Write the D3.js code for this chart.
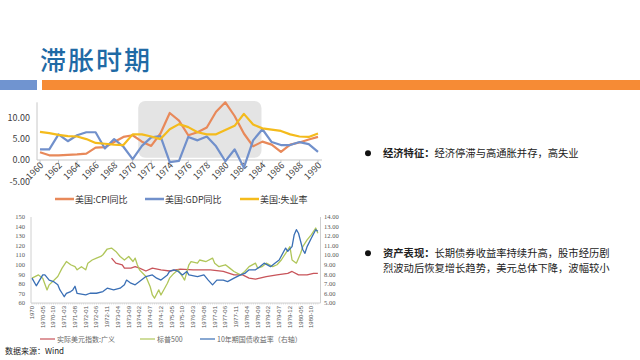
<!DOCTYPE html>
<html><head><meta charset="utf-8">
<script src="https://cdn.jsdelivr.net/npm/d3@7/dist/d3.min.js"></script>
<style>
html,body{margin:0;padding:0;background:#fff;}
svg{display:block;font-family:"Noto Sans CJK SC","Noto Sans",sans-serif;}
</style></head>
<body><svg id="c" width="640" height="360"></svg>
<script>
// ---------- top chart data ----------
const years = d3.range(1960, 1991);
const cpi = [1.8,1.1,1.1,1.2,1.3,1.5,2.9,3.0,4.2,5.4,5.8,4.3,3.3,6.2,11.0,9.2,5.8,6.5,7.6,11.3,13.5,10.3,6.2,3.2,4.3,3.6,1.9,3.6,4.1,4.8,5.4];
const gdp = [2.5,2.5,6.0,4.4,5.8,6.5,6.5,2.7,4.9,3.1,0.2,3.3,5.3,5.6,-0.5,-0.2,5.4,4.6,5.5,3.2,-0.3,2.5,-1.8,4.6,7.2,4.2,3.5,3.5,4.2,3.7,1.9];
const unemp = [6.6,6.3,5.9,5.6,5.5,4.9,4.0,3.8,3.6,3.5,6.0,6.0,5.5,4.9,7.2,8.4,7.7,6.5,6.0,6.0,7.0,8.0,10.8,8.3,7.4,7.1,6.8,6.0,5.5,5.4,6.2];
const topTicks = [-5, 0, 5, 10];
const shadeYears = [1970.6, 1983.9];
const topSeries = [
  {name:"美国:CPI同比", values:cpi, color:"#e8895a"},
  {name:"美国:GDP同比", values:gdp, color:"#7190cb"},
  {name:"美国:失业率", values:unemp, color:"#f4bb1c"}
];

// ---------- bottom chart data (month index from 1969-12) ----------
const monthLabels = ["1970","1970-05","1970-10","1971-03","1971-08","1972-01","1972-06","1972-11","1973-04","1973-09","1974-02","1974-07","1974-12","1975-05","1975-10","1976-03","1976-08","1977-01","1977-06","1977-11","1978-04","1978-09","1979-02","1979-07","1979-12","1980-05","1980-10"];
const spxM = [0,3,5,7,8,12,14,16,18,20,21,23,25,26,28,30,32,33,35,37,39,41,43,45,47,48,49,50,53,55,56,57,59,60,63,64,66,68,70,71,73,74,77,78,81,84,85,87,90,92,94,97,99,101,104,105,107,109,112,114,116,118,120,121,123,125,126,128,130,132,133];
const spxV = [86,89.4,86,73.7,79,87.7,96.5,103.4,100,98,94.7,98,94.7,101.7,105,107,108.7,110.5,116.5,117.5,114,108.7,105,108.7,103.4,107,100,94.7,87.7,77,68.4,65,73.7,68.4,80.7,86,91,94.7,87.7,84,100,103.4,101.7,105,103.4,107,101.7,98,100,96.5,93,89.4,93,98,101.7,96.5,98,101.7,98,100,105,112,119,105,101.7,112,119,126,131.5,138.5,133];
const bondM = [0,2,5,6,8,10,12,13,14,15,16,18,19,20,21,25,27,30,33,35,38,41,43,44,46,48,50,53,56,58,60,63,64,66,68,70,72,73,77,80,82,84,86,89,91,94,97,99,101,104,106,108,111,113,115,118,119,121,122,123,124,126,127,128,130,132,133];
const bondV = [7.6,6.8,7.94,7.94,7.4,7.24,6.9,6.37,6.02,5.66,6.0,6.2,6.37,6.75,6.0,5.84,6.02,6.02,6.2,6.55,6.37,6.55,6.9,7.4,7.07,6.9,7.24,7.77,7.94,7.6,7.4,7.94,8.3,8.47,8.3,7.94,8.3,7.94,7.77,7.94,7.4,6.9,7.4,7.4,7.24,7.6,7.94,8.1,8.47,8.47,8.8,9.17,8.8,9.17,9.5,10.75,10.4,10.9,12.15,12.67,12.3,10.57,10.2,10.9,11.8,12.67,12.5];
const usdM = [37,39,42,43,46,48,50,53,56,60,64,69,75,83,89,94,98,101,104,109,114,119,121,124,128,131,133];
const usdV = [107,101.7,100,96.5,96.5,98,96.5,93.5,96.5,94.7,93.5,95.5,94.7,94.7,93,89.4,89.4,86,85,87.7,89.4,91,93,89.4,89.4,91,91];
const leftTicks = [60,70,80,90,100,110,120,130,140,150];
const rightTicks = [5,6,7,8,9,10,11,12,13,14];
const bottomSeries = [
  {name:"实际美元指数:广义", m:usdM, v:usdV, axis:"L", color:"#c8545a"},
  {name:"标普500", m:spxM, v:spxV, axis:"L", color:"#b0c65a"},
  {name:"10年期国债收益率（右轴）", m:bondM, v:bondV, axis:"R", color:"#3a6fb5"}
];

const svg = d3.select("#c");

// ---------- header ----------
svg.append("text").attr("x",40).attr("y",70).attr("font-size",26).attr("fill","#1f6aa5")
  .attr("font-weight",500).attr("letter-spacing",2).text("滞胀时期");
svg.append("rect").attr("x",0).attr("y",80).attr("width",37).attr("height",10).attr("fill","#7094d0");
svg.append("rect").attr("x",42).attr("y",80).attr("width",598).attr("height",10).attr("fill","#f68b35");

// ---------- top chart ----------
const xT = d3.scaleLinear().domain([1960,1990]).range([40,318]);
const yT = d3.scaleLinear().domain([-5,14]).range([181.35,100.2]);
const gT = svg.append("g");
gT.append("rect").attr("x",xT(shadeYears[0])).attr("y",yT(13.8))
  .attr("width",xT(shadeYears[1])-xT(shadeYears[0])).attr("height",yT(0.5)-yT(13.8))
  .attr("rx",7).attr("fill","#e4e4e4");
gT.append("line").attr("x1",37).attr("x2",37).attr("y1",yT(13.5)).attr("y2",yT(0)).attr("stroke","#c8c8c8");
gT.append("line").attr("x1",37).attr("x2",322).attr("y1",yT(0)).attr("y2",yT(0)).attr("stroke","#c8c8c8");
topTicks.forEach(t=>{
  gT.append("text").attr("x",30).attr("y",yT(t)+3.5).attr("text-anchor","end")
    .attr("font-size",9).attr("fill","#404040").text(t.toFixed(2));
});
years.filter(y=>y%2===0).forEach(y=>{
  gT.append("line").attr("x1",xT(y)).attr("x2",xT(y)).attr("y1",yT(0)).attr("y2",yT(0)+3).attr("stroke","#c8c8c8");
  gT.append("text").attr("transform",`translate(${xT(y)+4},${yT(0)+6}) rotate(-45)`)
    .attr("text-anchor","end").attr("font-size",9).attr("fill","#404040").text(y);
});
const lineT = d3.line().x((d,i)=>xT(years[i])).y(d=>yT(d));
topSeries.forEach(s=>{
  gT.append("path").datum(s.values).attr("d",lineT).attr("fill","none")
    .attr("stroke",s.color).attr("stroke-width",2.2).attr("stroke-linejoin","round");
});
const legT = [[55,"美国:CPI同比"],[145,"美国:GDP同比"],[240,"美国:失业率"]];
topSeries.forEach((s,i)=>{
  const x0 = legT[i][0];
  gT.append("line").attr("x1",x0).attr("x2",x0+19).attr("y1",199).attr("y2",199)
    .attr("stroke",s.color).attr("stroke-width",2.5);
  gT.append("text").attr("x",x0+20).attr("y",202.5).attr("font-size",9).attr("fill","#333").text(s.name);
});

// ---------- bottom chart ----------
const xB = d3.scaleLinear().domain([0,134]).range([32,320]);
const yL = d3.scaleLinear().domain([60,150]).range([303,217]);
const yR = d3.scaleLinear().domain([5,14]).range([303,217]);
const gB = svg.append("g");
gB.append("line").attr("x1",31).attr("x2",31).attr("y1",217).attr("y2",303).attr("stroke","#d0d0d0");
gB.append("line").attr("x1",320.5).attr("x2",320.5).attr("y1",217).attr("y2",303).attr("stroke","#d0d0d0");
gB.append("line").attr("x1",31).attr("x2",320.5).attr("y1",303).attr("y2",303).attr("stroke","#d0d0d0");
leftTicks.forEach(t=>{
  gB.append("text").attr("x",25).attr("y",yL(t)+2.2).attr("text-anchor","end")
    .attr("font-size",6.5).attr("fill","#555").attr("font-family","Liberation Serif").text(t);
});
rightTicks.forEach(t=>{
  gB.append("text").attr("x",324).attr("y",yR(t)+2.2)
    .attr("font-size",6.5).attr("fill","#555").attr("font-family","Liberation Serif").text(t.toFixed(2));
});
d3.range(0,134,1).forEach(m=>{
  gB.append("line").attr("x1",xB(m)).attr("x2",xB(m)).attr("y1",303).attr("y2",304.5).attr("stroke","#ccc").attr("stroke-width",0.6);
});
monthLabels.forEach((lab,i)=>{
  gB.append("text").attr("transform",`translate(${xB(i*5)+2},306) rotate(-90)`)
    .attr("text-anchor","end").attr("font-size",6).attr("fill","#555")
    .attr("font-family","Liberation Sans Narrow, Liberation Sans").text(lab);
});
bottomSeries.forEach(s=>{
  const ys = s.axis==="L"? yL : yR;
  const pts = s.m.map((m,i)=>[xB(m), ys(s.v[i])]);
  gB.append("path").datum(pts).attr("d",d3.line()).attr("fill","none")
    .attr("stroke",s.color).attr("stroke-width",1.3).attr("stroke-linejoin","round");
});
const legB = [40,140,200];
bottomSeries.forEach((s,i)=>{
  const x0 = legB[i];
  gB.append("line").attr("x1",x0).attr("x2",x0+15).attr("y1",339).attr("y2",339)
    .attr("stroke",s.color).attr("stroke-width",1.2);
  gB.append("text").attr("x",x0+17).attr("y",341.5).attr("font-size",7).attr("fill","#666").text(s.name);
});
svg.append("text").attr("x",5).attr("y",354).attr("font-size",8).attr("fill","#222").text("数据来源：Wind");

// ---------- right text ----------
const notes = [
  {y:157, head:"经济特征：", lines:["经济停滞与高通胀并存，高失业"]},
  {y:257, head:"资产表现：", lines:["长期债券收益率持续升高，股市经历剧","烈波动后恢复增长趋势，美元总体下降，波幅较小"]}
];
notes.forEach(n=>{
  svg.append("circle").attr("cx",368).attr("cy",n.y-3.8).attr("r",3).attr("fill","#111");
  const h = svg.append("text").attr("x",383).attr("y",n.y).attr("font-size",10.3).attr("fill","#222")
    .attr("font-weight",700).text(n.head);
  const w = h.node().getComputedTextLength();
  svg.append("text").attr("x",383+w).attr("y",n.y).attr("font-size",10.3).attr("fill","#222").text(n.lines[0]);
  n.lines.slice(1).forEach((l,i)=>{
    svg.append("text").attr("x",383).attr("y",n.y+15*(i+1)).attr("font-size",10.3).attr("fill","#222").text(l);
  });
});
</script></body></html>
